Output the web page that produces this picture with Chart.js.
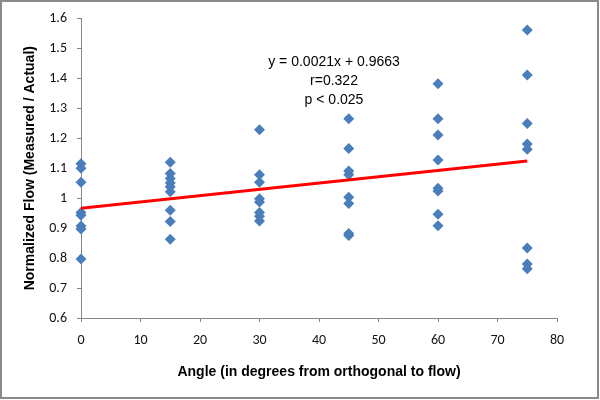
<!DOCTYPE html>
<html><head><meta charset="utf-8">
<script src="https://cdn.jsdelivr.net/npm/chart.js@4"></script>
<style>html,body{margin:0;padding:0;background:#fff}#wrap{width:600px;height:400px;position:relative}</style>
</head><body><div id="wrap"><canvas id="c" width="600" height="400"></canvas></div>
<script>
const angles = [0,0,0,0,0,0,0,0, 15,15,15,15,15,15,15,15,15, 30,30,30,30,30,30,30,30, 45,45,45,45,45,45,45,45, 60,60,60,60,60,60,60,60, 75,75,75,75,75,75,75,75];
const flows = [1.115,1.100,1.053,0.952,0.943,0.907,0.897,0.797,
  1.120,1.082,1.066,1.051,1.038,1.021,0.960,0.922,0.863,
  1.228,1.078,1.053,0.998,0.987,0.952,0.940,0.924,
  1.265,1.166,1.091,1.078,1.003,0.982,0.882,0.875,
  1.382,1.265,1.211,1.127,1.033,1.024,0.946,0.908,
  1.561,1.411,1.249,1.181,1.163,0.834,0.780,0.764];
const trendX = [0, 75];
const trendY = [0.9663, 1.1238];
const annotation = ["y = 0.0021x + 0.9663", "r=0.322", "p < 0.025"];
const xTitle = "Angle (in degrees from orthogonal to flow)";
const yTitle = "Normalized Flow (Measured / Actual)";

const pts = angles.map((a,i)=>({x:a,y:flows[i]}));
const trend = trendX.map((a,i)=>({x:a,y:trendY[i]}));
const FONT = "'Liberation Sans', Arial, sans-serif";
const TICKFONT = "Carlito, Lato, 'Liberation Sans', sans-serif";

const framePlugin = {
  id:'frame',
  beforeDraw(chart){
    const ctx=chart.ctx; ctx.save(); ctx.fillStyle='#fff'; ctx.fillRect(0,0,600,400); ctx.restore();
  },
  afterDraw(chart){
    const ctx=chart.ctx; ctx.save();
    ctx.strokeStyle='#8a8a8a'; ctx.lineWidth=2; ctx.strokeRect(1,1,597,397);
    ctx.fillStyle='#000'; ctx.font="14px "+FONT; ctx.textAlign='center'; ctx.textBaseline='middle';
    annotation.forEach((t,i)=>ctx.fillText(t, 334, 62+i*19));
    ctx.restore();
  }
};

new Chart(document.getElementById('c'), {
  type:'scatter',
  data:{datasets:[
    {data:trend, type:'line', borderColor:'#ff0000', borderWidth:3, pointRadius:0, fill:false, order:1},
    {data:pts, pointStyle:'rectRot', pointRadius:5.5, backgroundColor:'#4a7ebb', borderColor:'#4a7ebb', borderWidth:0, order:2, clip:false}
  ]},
  options:{
    responsive:false, animation:false, devicePixelRatio:1,
    layout:{padding:{left:18, right:43, top:18, bottom:15}},
    plugins:{legend:{display:false}, tooltip:{enabled:false}},
    scales:{
      x:{type:'linear', min:0, max:80,
        ticks:{stepSize:10, color:'#111', font:{family:TICKFONT, size:14}, padding:10, maxRotation:0},
        grid:{drawOnChartArea:false, drawTicks:true, tickLength:4, color:'#868686'},
        border:{color:'#868686', width:1},
        title:{display:true, text:xTitle, color:'#000', font:{family:FONT, size:14, weight:'bold'}, padding:{top:4,bottom:4}},
        afterFit(s){ s.height = 67; }
      },
      y:{type:'linear', min:0.6, max:1.6,
        ticks:{stepSize:0.1, color:'#111', font:{family:TICKFONT, size:14}, padding:10, callback:v=>String(+(+v).toFixed(1))},
        grid:{drawOnChartArea:false, drawTicks:true, tickLength:4, color:'#868686'},
        border:{color:'#868686', width:1},
        title:{display:true, text:yTitle, color:'#000', font:{family:FONT, size:14, weight:'bold'}, padding:{top:4,bottom:4}},
        afterFit(s){ s.width = 63; }
      }
    }
  },
  plugins:[framePlugin]
});
</script></body></html>
